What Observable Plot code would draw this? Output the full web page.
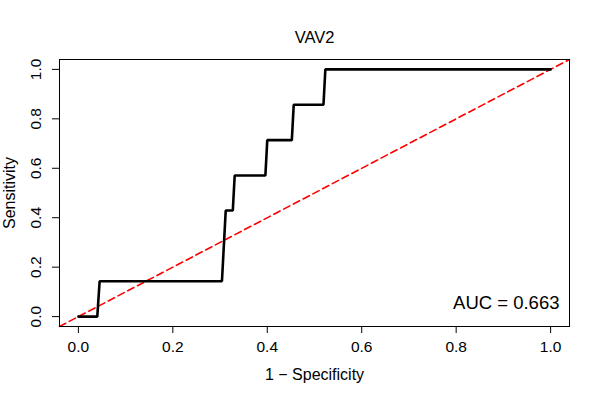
<!DOCTYPE html>
<html>
<head>
<meta charset="utf-8">
<script src="https://cdn.jsdelivr.net/npm/d3@7"></script>
<script src="https://cdn.jsdelivr.net/npm/@observablehq/plot@0.6"></script>
<style>
  html, body { margin: 0; padding: 0; background: #fff; }
</style>
</head>
<body>
<div id="chart"></div>
<script>
const title = "VAV2";
const xLabel = "1 \u2212 Specificity";
const yLabel = "Sensitivity";
const aucLabel = "AUC = 0.663";

// ROC curve: x = 1 - specificity, y = sensitivity
const fpr = [0, 0.040, 0.045, 0.304, 0.312, 0.327, 0.331, 0.396, 0.400, 0.452, 0.456, 0.519, 0.523, 1];
const tpr = [0, 0, 0.143, 0.143, 0.429, 0.429, 0.571, 0.571, 0.714, 0.714, 0.857, 0.857, 1, 1];

const xTicks = [0, 0.2, 0.4, 0.6, 0.8, 1.0];
const yTicks = [0, 0.2, 0.4, 0.6, 0.8, 1.0];
const domain = [-0.04, 1.04];

const roc = fpr.map((x, i) => ({x, y: tpr[i]}));
const fmt = d3.format(".1f");
const font = "'Liberation Sans', Arial, Helvetica, sans-serif";

const chart = Plot.plot({
  width: 600,
  height: 400,
  marginLeft: 59,
  marginRight: 31,
  marginTop: 59,
  marginBottom: 74,
  style: {fontFamily: font, background: "#fff", color: "#000"},
  x: {domain, ticks: xTicks},
  y: {domain, ticks: yTicks},
  marks: [
    Plot.line(domain, {x: d => d, y: d => d, stroke: "red", strokeWidth: 1.6, strokeDasharray: "7,4"}),
    Plot.line(roc, {x: "x", y: "y", stroke: "black", strokeWidth: 2.6, strokeLinejoin: "miter"}),
    Plot.frame({stroke: "black", strokeWidth: 1}),
    Plot.axisX({ticks: xTicks, tickSize: 7, tickFormat: () => "", label: null, stroke: "black"}),
    Plot.axisY({ticks: yTicks, tickSize: 7, tickFormat: () => "", label: null, stroke: "black"}),
    Plot.text(xTicks, {x: d => d, text: d => fmt(d), frameAnchor: "bottom", dy: 21, lineAnchor: "middle", fontSize: 15.5, fill: "black"}),
    Plot.text(yTicks, {y: d => d, text: d => fmt(d), frameAnchor: "left", dx: -23, rotate: -90, textAnchor: "middle", lineAnchor: "middle", fontSize: 15.5, fill: "black"}),
    Plot.text([xLabel], {text: d => d, frameAnchor: "bottom", dy: 48, lineAnchor: "middle", fontSize: 16, fill: "black"}),
    Plot.text([yLabel], {text: d => d, frameAnchor: "left", dx: -50, rotate: -90, textAnchor: "middle", lineAnchor: "middle", fontSize: 16, fill: "black"}),
    Plot.text([title], {text: d => d, frameAnchor: "top", dy: -22, lineAnchor: "middle", fontSize: 16.5, fill: "black"}),
    Plot.text([aucLabel], {text: d => d, frameAnchor: "bottom-right", dx: -10, dy: -23.5, textAnchor: "end", lineAnchor: "middle", fontSize: 18.5, fill: "black"})
  ]
});
document.getElementById("chart").appendChild(chart);
</script>
</body>
</html>
